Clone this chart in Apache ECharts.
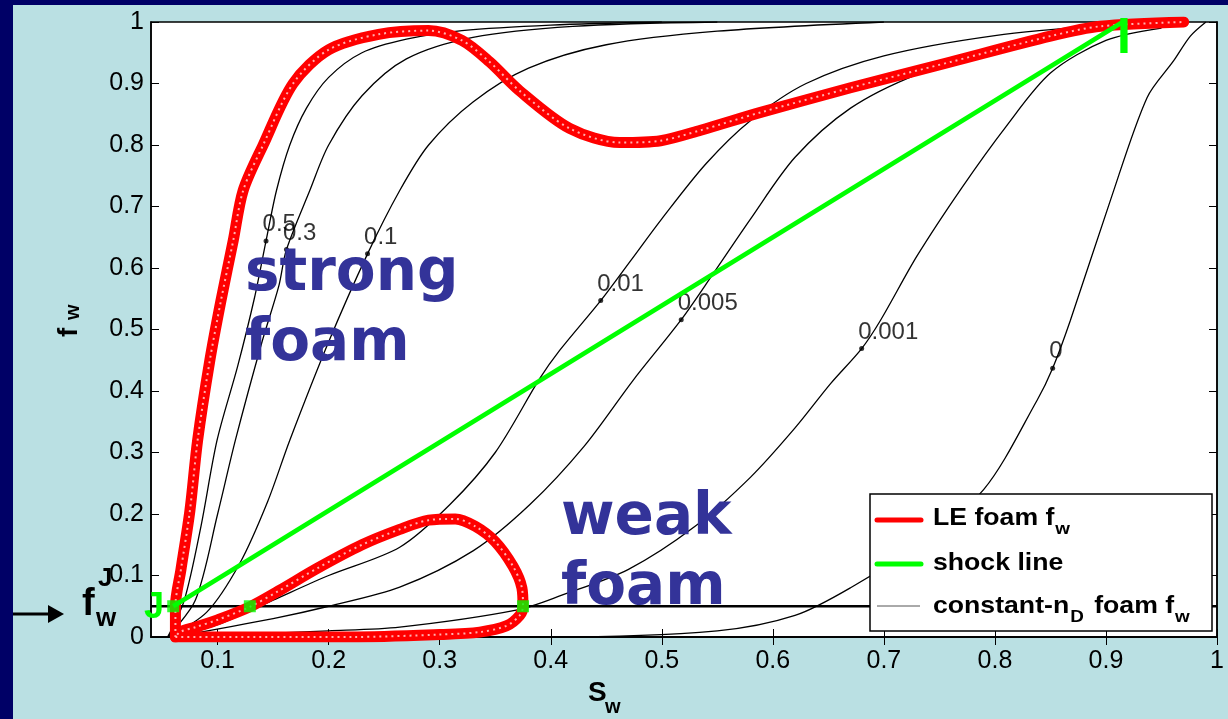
<!DOCTYPE html>
<html>
<head>
<meta charset="utf-8">
<script src="https://cdn.jsdelivr.net/npm/echarts@6/dist/echarts.min.js"></script>
<style>
  html, body { margin: 0; padding: 0; background: #bae0e3; }
  #chart { width: 1228px; height: 719px; }
</style>
</head>
<body>
<div id="chart"></div>
<script>
// Axis tick values
const xTicks = [0.1, 0.2, 0.3, 0.4, 0.5, 0.6, 0.7, 0.8, 0.9, 1];

// Local-equilibrium foam fractional flow (Sw, fw): the weak-foam loop ...
const leFoamWeak = [
  [0.062, 0.0], [0.1, 0.0], [0.22, 0.0], [0.3, 0.004], [0.336, 0.008], [0.36, 0.018],
  [0.372, 0.035], [0.375, 0.05], [0.374, 0.08], [0.366, 0.115], [0.35, 0.155], [0.332, 0.18],
  [0.314, 0.192], [0.29, 0.19], [0.264, 0.175], [0.23, 0.15], [0.19, 0.112], [0.155, 0.075],
  [0.129, 0.049], [0.1, 0.028], [0.08, 0.016], [0.066, 0.008], [0.062, 0.0]
];
// ... and the strong-foam branch
const leFoamStrong = [
  [0.062, 0.0], [0.062, 0.05], [0.067, 0.11], [0.075, 0.205], [0.082, 0.32], [0.093, 0.45],
  [0.103, 0.547], [0.114, 0.644], [0.123, 0.726], [0.141, 0.8], [0.168, 0.9], [0.2, 0.955],
  [0.245, 0.98], [0.29, 0.986], [0.32, 0.97], [0.345, 0.935], [0.372, 0.888], [0.417, 0.827],
  [0.462, 0.804], [0.499, 0.807], [0.535, 0.824], [0.589, 0.853], [0.67, 0.893], [0.76, 0.935],
  [0.85, 0.977], [0.895, 0.993], [0.97, 1.0]
];

// Constant-nD foam fractional-flow curves
const nD05 = [[0.055, 0], [0.07, 0.06], [0.085, 0.18], [0.0995, 0.32], [0.118, 0.44], [0.133, 0.55], [0.1436, 0.644], [0.153, 0.726], [0.165, 0.8], [0.18, 0.86], [0.2, 0.91], [0.23, 0.95], [0.27, 0.972], [0.32, 0.986], [0.4, 0.995], [0.5, 1]];
const nD03 = [[0.055, 0], [0.08, 0.06], [0.1, 0.2], [0.116, 0.32], [0.14, 0.48], [0.155, 0.57], [0.162, 0.63], [0.183, 0.726], [0.2, 0.8], [0.23, 0.88], [0.27, 0.94], [0.33, 0.975], [0.42, 0.993], [0.55, 1]];
const nD01 = [[0.055, 0], [0.09, 0.04], [0.12, 0.12], [0.145, 0.22], [0.165, 0.32], [0.2, 0.48], [0.235, 0.623], [0.264, 0.726], [0.29, 0.8], [0.33, 0.87], [0.38, 0.925], [0.45, 0.963], [0.55, 0.985], [0.7, 1]];
const nD001 = [[0.06, 0], [0.1, 0.02], [0.15, 0.06], [0.2, 0.1], [0.264, 0.146], [0.309, 0.215], [0.35, 0.3], [0.39, 0.42], [0.408, 0.466], [0.445, 0.547], [0.472, 0.612], [0.5, 0.68], [0.54, 0.77], [0.58, 0.84], [0.63, 0.9], [0.7, 0.945], [0.8, 0.978], [0.9, 0.995]];
const nD0005 = [[0.06, 0], [0.15, 0.03], [0.2, 0.05], [0.264, 0.081], [0.33, 0.14], [0.381, 0.215], [0.43, 0.31], [0.474, 0.417], [0.5175, 0.516], [0.546, 0.59], [0.58, 0.68], [0.62, 0.78], [0.67, 0.86], [0.73, 0.915], [0.8, 0.955], [0.9, 0.99]];
const nD0001 = [[0.06, 0], [0.2, 0.01], [0.264, 0.016], [0.37, 0.044], [0.41, 0.068], [0.47, 0.11], [0.53, 0.18], [0.58, 0.26], [0.62, 0.34], [0.652, 0.412], [0.68, 0.469], [0.697, 0.515], [0.73, 0.62], [0.77, 0.73], [0.81, 0.83], [0.85, 0.917], [0.9, 0.97], [0.95, 0.99]];
const nD0 = [[0.06, 0], [0.4, 0], [0.55, 0.01], [0.62, 0.035], [0.67, 0.08], [0.73, 0.15], [0.79, 0.24], [0.838, 0.385], [0.852, 0.437], [0.868, 0.515], [0.904, 0.71], [0.937, 0.877], [0.961, 0.937], [0.976, 0.977], [0.99, 1]];

// Labelled points on the constant-nD curves: [Sw, fw, nD label]
const nDMarks = [
  [0.1436, 0.644, '0.5'], [0.162, 0.63, '0.3'], [0.235, 0.623, '0.1'],
  [0.445, 0.547, '0.01'], [0.5175, 0.516, '0.005'], [0.68, 0.469, '0.001'], [0.852, 0.437, '0']
];

// Shock line from J to I, and the intersections with fw = fwJ
const shock = [[0.06, 0.05], [0.915, 1.0]];
const fwJ = 0.05;
const jPoints = [[0.06, 0.05], [0.129, 0.05], [0.375, 0.05]];

const chart = echarts.init(document.getElementById('chart'), null, { renderer: 'canvas' });

const numFont = "'Liberation Sans', Arial, sans-serif";
const blueFont = "bold 58px 'DejaVu Sans', Verdana, sans-serif";

// measure text so subscripts sit right after their base text
const measureCtx = document.createElement('canvas').getContext('2d');
function textWidth(str, font) { measureCtx.font = font; return measureCtx.measureText(str).width; }

const blackLine = (data) => ({
  type: 'line', data, showSymbol: false, silent: true, z: 2, smooth: 0.3,
  lineStyle: { color: '#000', width: 1.3 }
});
const redLine = (data) => [
  { type: 'line', data, showSymbol: false, silent: true, z: 4, smooth: 0.3,
    lineStyle: { color: '#ff0000', width: 11, cap: 'round', join: 'round' } },
  { type: 'line', data, showSymbol: false, silent: true, z: 5, smooth: 0.3,
    lineStyle: { color: '#ffb0b0', width: 2, type: [2, 4] } }
];

// legend text with subscripts (horizontally widened like the rest of the legend)
const legFont = 'bold 24px ' + numFont;
const subFont = 'bold 17px ' + numFont;
const legScale = 1.11;
function legendText(x, y, parts) {
  const out = [];
  let cx = x;
  parts.forEach(([str, sub]) => {
    const f = sub ? subFont : legFont;
    out.push({ type: 'text', x: cx, y: sub ? y + 15 : y, scaleX: legScale, z: 61,
      style: { text: str, fill: '#000', font: f } });
    cx += textWidth(str, f) * legScale + (sub ? 3 : 1);
  });
  return out;
}

const option = {
  backgroundColor: '#bae0e3',
  animation: false,
  grid: { left: 151, top: 22, right: 11, bottom: 82, show: true, backgroundColor: '#fff', borderColor: '#000', borderWidth: 1.5 },
  xAxis: [
    { type: 'value', min: 0.04, max: 1, position: 'bottom',
      splitLine: { show: false },
      axisLine: { lineStyle: { color: '#000', width: 1.5 } },
      axisTick: { inside: true, length: 8, customValues: xTicks, lineStyle: { color: '#000' } },
      axisLabel: { customValues: xTicks, color: '#000', fontSize: 25, fontFamily: numFont, margin: 12,
        formatter: v => String(Math.round(v * 10) / 10) } },
    { type: 'value', min: 0.04, max: 1, position: 'top',
      splitLine: { show: false },
      axisLine: { lineStyle: { color: '#000', width: 1.5 } },
      axisTick: { inside: true, length: 8, customValues: xTicks, lineStyle: { color: '#000' } },
      axisLabel: { show: false } }
  ],
  yAxis: [
    { type: 'value', min: 0, max: 1, interval: 0.1, position: 'left',
      splitLine: { show: false },
      axisLine: { lineStyle: { color: '#000', width: 1.5 } },
      axisTick: { inside: true, length: 8, lineStyle: { color: '#000' } },
      axisLabel: { color: '#000', fontSize: 25, fontFamily: numFont, margin: 7,
        formatter: v => String(Math.round(v * 10) / 10) } },
    { type: 'value', min: 0, max: 1, interval: 0.1, position: 'right',
      splitLine: { show: false },
      axisLine: { lineStyle: { color: '#000', width: 1.5 } },
      axisTick: { inside: true, length: 8, lineStyle: { color: '#000' } },
      axisLabel: { show: false } }
  ],
  series: [
    blackLine(nD05), blackLine(nD03), blackLine(nD01), blackLine(nD001),
    blackLine(nD0005), blackLine(nD0001), blackLine(nD0),
    { type: 'line', data: [[0.04, fwJ], [1, fwJ]], showSymbol: false, silent: true, z: 3,
      lineStyle: { color: '#000', width: 2.5 } },
    { type: 'scatter', data: nDMarks, symbol: 'circle', symbolSize: 5, z: 6,
      itemStyle: { color: '#000' },
      label: { show: true, position: [-1, -26], formatter: p => p.value[2],
        color: '#000', fontSize: 24, fontFamily: numFont } },
    ...redLine(leFoamWeak), ...redLine(leFoamStrong),
    { type: 'line', data: shock, showSymbol: false, silent: true, z: 7,
      lineStyle: { color: '#00ff00', width: 4.5 } },
    { type: 'scatter', data: jPoints, symbol: 'rect', symbolSize: 12, z: 8,
      itemStyle: { color: '#00ff00' } }
  ],
  graphic: [
    // frame strips
    { type: 'rect', shape: { x: 0, y: 0, width: 1228, height: 5 }, style: { fill: '#000066' }, z: 100 },
    { type: 'rect', shape: { x: 0, y: 0, width: 13, height: 719 }, style: { fill: '#000066' }, z: 100 },
    // region labels
    { type: 'text', left: 245, top: 240, z: 50,
      style: { text: 'strong\nfoam', fill: '#333399', font: blueFont, lineHeight: 70 } },
    { type: 'text', left: 561, top: 484, z: 50,
      style: { text: 'weak\nfoam', fill: '#333399', font: blueFont, lineHeight: 70 } },
    // point labels
    { type: 'text', left: 144, top: 590, z: 50,
      style: { text: 'J', fill: '#00ff00', font: 'bold 36px ' + numFont } },
    { type: 'text', left: 1117, top: 14, z: 50,
      style: { text: 'I', fill: '#00ff00', font: 'bold 50px ' + numFont } },
    // axis names
    { type: 'text', x: 55, y: 337, rotation: Math.PI / 2, z: 50,
      style: { text: 'f', fill: '#000', font: 'bold 28px ' + numFont } },
    { type: 'text', x: 63, y: 320, rotation: Math.PI / 2, z: 50,
      style: { text: 'w', fill: '#000', font: 'bold 20px ' + numFont } },
    { type: 'text', left: 588, top: 679, z: 50,
      style: { text: 'S', fill: '#000', font: 'bold 28px ' + numFont } },
    { type: 'text', left: 605, top: 697, z: 50,
      style: { text: 'w', fill: '#000', font: 'bold 20px ' + numFont } },
    // fwJ annotation with arrow
    { type: 'text', left: 82, top: 586, z: 50,
      style: { text: 'f', fill: '#000', font: 'bold 38px ' + numFont } },
    { type: 'text', left: 98, top: 566, z: 50,
      style: { text: 'J', fill: '#000', font: 'bold 26px ' + numFont } },
    { type: 'text', left: 96, top: 606, z: 50,
      style: { text: 'w', fill: '#000', font: 'bold 26px ' + numFont } },
    { type: 'line', shape: { x1: 0, y1: 614, x2: 52, y2: 614 }, style: { stroke: '#000', lineWidth: 3 }, z: 50 },
    { type: 'polygon', shape: { points: [[48, 605], [64, 614], [48, 623]] }, style: { fill: '#000' }, z: 50 },
    // legend
    { type: 'rect', shape: { x: 870, y: 494, width: 342, height: 137 }, style: { fill: '#fff', stroke: '#000', lineWidth: 1.5 }, z: 60 },
    { type: 'line', shape: { x1: 877, y1: 520, x2: 921, y2: 520 }, style: { stroke: '#ff0000', lineWidth: 5, lineCap: 'round' }, z: 61 },
    { type: 'line', shape: { x1: 877, y1: 564, x2: 921, y2: 564 }, style: { stroke: '#00ff00', lineWidth: 5, lineCap: 'round' }, z: 61 },
    { type: 'line', shape: { x1: 877, y1: 606, x2: 920, y2: 606 }, style: { stroke: '#555', lineWidth: 1 }, z: 61 },
    ...legendText(933, 506, [['LE foam f', false], ['w', true]]),
    ...legendText(933, 551, [['shock line', false]]),
    ...legendText(933, 594, [['constant-n', false], ['D', true], [' foam f', false], ['w', true]])
  ]
};

chart.setOption(option);
</script>
</body>
</html>
